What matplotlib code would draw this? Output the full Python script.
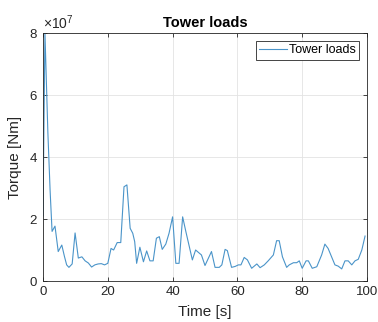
import numpy as np
import matplotlib
matplotlib.use('Agg')
import matplotlib.pyplot as plt
from matplotlib.ticker import ScalarFormatter

plt.rcParams['font.family'] = ['Liberation Sans', 'DejaVu Sans']
plt.rcParams['mathtext.fontset'] = 'custom'
plt.rcParams['mathtext.rm'] = 'Liberation Sans'

# Time samples [s] and tower torque [1e7 Nm]
time_s = [0, 0.6, 1.5, 2.2, 2.8, 3.7, 4.7, 5.8, 6.6, 7.3, 8.0, 9.0, 9.9, 10.9,
          12.0, 13.0, 14.0, 15.0, 16.0, 17.0, 18.0, 19.0, 20.0, 21.0, 21.8,
          22.9, 24.0, 25.0, 25.9, 26.9, 27.7, 28.3, 28.9, 29.9, 31.0, 32.0,
          33.0, 34.0, 35.0, 35.9, 36.8, 37.9, 38.9, 40.0, 41.0, 42.0, 43.1,
          44.1, 46.1, 47.1, 48.0, 48.9, 50.0, 52.0, 53.1, 54.4, 55.2, 56.2,
          56.9, 58.2, 59.3, 60.3, 61.1, 62.1, 63.1, 64.4, 66.0, 67.0, 68.3,
          69.5, 71.1, 72.1, 72.9, 73.9, 75.2, 76.0, 77.3, 78.3, 79.1, 80.0,
          81.2, 81.9, 83.1, 84.5, 86.0, 87.0, 88.0, 90.1, 91.1, 92.2, 93.2,
          94.2, 95.3, 96.3, 97.3, 98.4, 99.4]
torque_e7 = [2.1, 8.0, 4.8, 2.9, 1.6, 1.77, 0.95, 1.16, 0.8, 0.52, 0.44, 0.55,
             1.55, 0.74, 0.78, 0.65, 0.58, 0.45, 0.52, 0.55, 0.56, 0.52, 0.57,
             1.05, 1.0, 1.24, 1.24, 3.04, 3.1, 1.7, 1.54, 1.27, 0.57, 1.09,
             0.62, 0.97, 0.65, 0.65, 1.38, 1.43, 1.02, 1.19, 1.54, 2.07, 0.57,
             0.57, 2.07, 1.59, 0.68, 1.0, 0.92, 0.84, 0.5, 0.95, 0.44, 0.44,
             0.52, 1.02, 0.98, 0.44, 0.47, 0.52, 0.52, 0.76, 0.68, 0.41, 0.55,
             0.43, 0.52, 0.65, 0.84, 1.3, 1.3, 0.78, 0.44, 0.52, 0.59, 0.59,
             0.65, 0.41, 0.65, 0.65, 0.41, 0.46, 0.84, 1.19, 1.05, 0.52, 0.48,
             0.39, 0.65, 0.65, 0.52, 0.65, 0.7, 1.0, 1.45]
x_ticks = [0, 20, 40, 60, 80, 100]
y_ticks = [0, 2e7, 4e7, 6e7, 8e7]

torque = np.array(torque_e7) * 1e7

fig = plt.figure(figsize=(3.78, 3.22), dpi=100)
ax = fig.add_axes([43 / 378, 1 - 281 / 322, 324 / 378, 248 / 322])

ax.plot(time_s, torque, color='#4a94c9', linewidth=0.8, label='Tower loads')

ax.set_xlim(0, 100)
ax.set_ylim(0, 8e7)
ax.set_xticks(x_ticks)
ax.set_yticks(y_ticks)

fmt = ScalarFormatter(useMathText=True)
fmt.set_powerlimits((0, 0))
ax.yaxis.set_major_formatter(fmt)
ax.yaxis.get_offset_text().set_fontsize(10)
ax.yaxis.get_offset_text().set_color('#262626')

ax.grid(True, color='#e3e3e3', linewidth=0.6)
ax.set_axisbelow(True)
ax.tick_params(direction='in', length=3, width=0.6, colors='#262626',
               labelsize=9.5, top=True, right=True)
for s in ax.spines.values():
    s.set_color('#262626')
    s.set_linewidth(0.6)

ax.set_title('Tower loads', fontsize=10.5, fontweight='bold', pad=4)
ax.set_xlabel('Time [s]', fontsize=11, color='#262626', labelpad=5)
ax.set_ylabel('Torque [Nm]', fontsize=11, color='#262626', labelpad=5)

leg = ax.legend(loc='upper right', fontsize=9, fancybox=False, framealpha=1,
                edgecolor='#262626', handlelength=2.2, borderpad=0.3,
                borderaxespad=0.6, handletextpad=0.15)
leg.get_frame().set_linewidth(0.6)

fig.savefig('out.png', dpi=100)
